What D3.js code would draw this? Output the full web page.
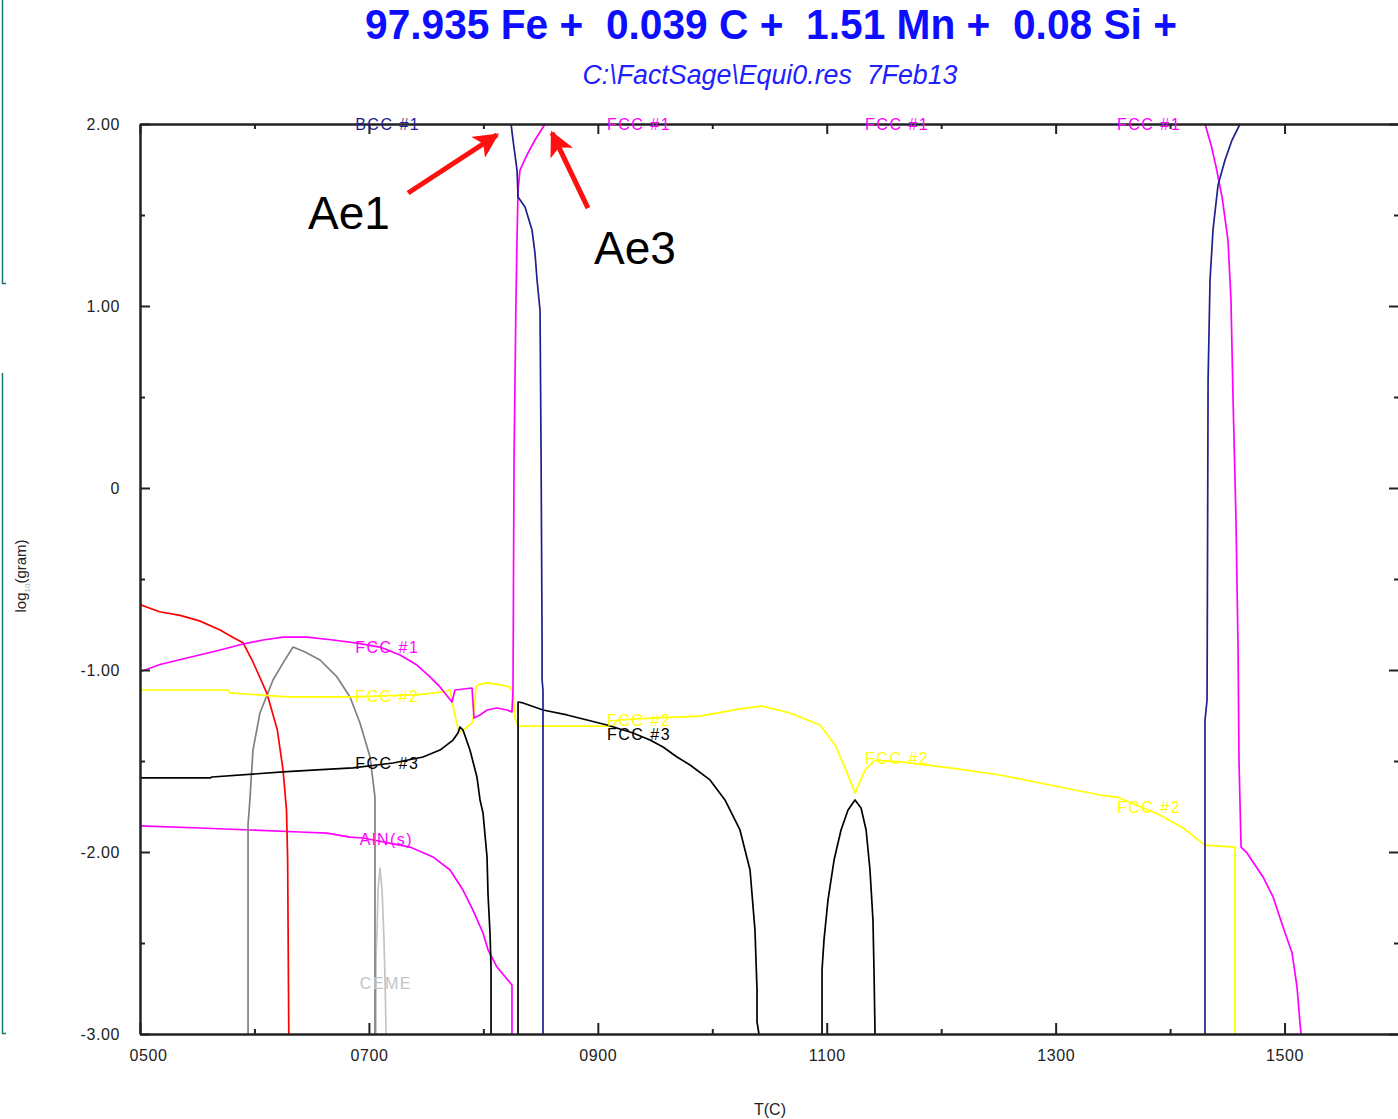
<!DOCTYPE html>
<html><head><meta charset="utf-8">
<script src="https://cdn.jsdelivr.net/npm/d3@7"></script>
<style>
html,body{margin:0;padding:0;background:#fff;}
svg{display:block;}
</style>
</head><body>
<svg id="chart" width="1398" height="1119"></svg>
<script>
// ---------- DATA (T in °C, value in log10(gram)) ----------
const titleText = "97.935 Fe +  0.039 C +  1.51 Mn +  0.08 Si +";
const subtitleText = "C:\\FactSage\\Equi0.res  7Feb13";
const xTickMajor = [500, 700, 900, 1100, 1300, 1500];
const xTickMinor = [600, 800, 1000, 1200, 1400, 1600];
const yTickMajor = [2, 1, 0, -1, -2, -3];
const yTickMinor = [1.5, 0.5, -0.5, -1.5, -2.5];

const redPhase = [[500,-0.64],[517,-0.68],[535,-0.70],[552,-0.73],[570,-0.78],[581,-0.82],[590,-0.85],[599,-0.96],[611,-1.13],[620,-1.33],[625,-1.55],[628,-1.77],[629,-2.04],[630,-3.0]];
const fcc1Low = [[500,-1.01],[517.5,-0.97],[543.7,-0.93],[569.9,-0.89],[590,-0.857],[607.5,-0.835],[624.9,-0.819],[645.9,-0.819],[668.6,-0.835],[689.6,-0.852],[709.7,-0.874],[727.2,-0.918],[742,-0.973],[753.4,-1.038],[762.1,-1.093],[772.6,-1.176],[775.2,-1.11],[790.1,-1.099],[791.8,-1.264],[797.1,-1.247],[803.2,-1.22],[811.9,-1.209],[820.7,-1.22],[825,-1.231],[825.9,-1.11],[826.8,0.154],[828.5,1.033],[829.4,1.363],[830.3,1.637],[832,1.747],[838.1,1.83],[845.1,1.912],[853.9,2.0]];
const fcc1High = [[1430.5,2.0],[1436,1.88],[1440,1.77],[1445.4,1.6],[1450.6,1.36],[1453.2,1.033],[1455,0.49],[1457.6,-0.18],[1459.4,-0.89],[1460.2,-1.495],[1462,-1.973],[1467.2,-2.005],[1481.2,-2.137],[1490,-2.247],[1498.7,-2.412],[1506.6,-2.555],[1510.9,-2.742],[1513.5,-2.94],[1514.4,-3.0]];
const bccLow = [[824.2,2.0],[825.9,1.912],[829.4,1.747],[830.3,1.599],[836.4,1.544],[842.5,1.418],[845.1,1.291],[846.9,1.143],[849.5,0.978],[850.4,0.209],[851.3,-0.835],[851.3,-1.055],[852.1,-1.11],[852.1,-3.0]];
const bccHigh = [[1461.1,2.0],[1454.1,1.912],[1448,1.802],[1441.9,1.665],[1437.5,1.418],[1434.9,1.143],[1433.2,0.593],[1432.3,-1.165],[1430.5,-1.275],[1430.5,-3.0]];
const fcc2 = [[500,-1.11],[576.9,-1.11],[578.6,-1.126],[628.4,-1.148],[686.1,-1.148],[742,-1.137],[764.7,-1.121],[770.9,-1.11],[773.5,-1.203],[777.8,-1.319],[779.6,-1.341],[785.7,-1.313],[790.1,-1.291],[791.8,-1.236],[793.6,-1.093],[795.3,-1.082],[803.2,-1.071],[814.5,-1.082],[823.3,-1.093],[825.9,-1.126],[827.7,-1.264],[830.3,-1.308],[913.3,-1.308],[916.8,-1.275],[945.6,-1.264],[989.3,-1.253],[1024.2,-1.214],[1043.5,-1.198],[1067.9,-1.236],[1094.1,-1.302],[1107.3,-1.412],[1116,-1.538],[1124.7,-1.676],[1133.5,-1.549],[1142.2,-1.495],[1164,-1.505],[1207.7,-1.538],[1251.4,-1.577],[1295.1,-1.632],[1338.8,-1.687],[1353.6,-1.698],[1391.2,-1.797],[1411.3,-1.868],[1430.5,-1.962],[1456.7,-1.973],[1456.7,-3.0]];
const fcc3Low = [[500,-1.593],[561.2,-1.593],[562.9,-1.588],[624.9,-1.56],[654.7,-1.549],[686.1,-1.538],[721.1,-1.511],[747.3,-1.478],[762.1,-1.44],[773.5,-1.385],[777.8,-1.346],[779.6,-1.313],[782.2,-1.33],[788.3,-1.44],[794.4,-1.588],[797.1,-1.714],[799.7,-1.786],[803.2,-2.027],[804.1,-2.236],[805.8,-2.445],[806.7,-2.632],[806.7,-3.0]];
const fcc3Mid = [[830.3,-3.0],[830.3,-1.176],[834.7,-1.181],[852.1,-1.22],[873.1,-1.247],[890.6,-1.275],[908,-1.302],[930.8,-1.346],[945.6,-1.385],[957,-1.423],[969.2,-1.478],[980.6,-1.522],[998,-1.604],[1011.1,-1.714],[1024.2,-1.879],[1033,-2.099],[1037.3,-2.429],[1039.1,-2.758],[1039.1,-2.934],[1040.8,-3.0]];
const fcc3Peak = [[1095.9,-3.0],[1095.9,-2.648],[1097.6,-2.484],[1101.1,-2.264],[1106.4,-2.044],[1112.5,-1.879],[1118.6,-1.769],[1124.7,-1.714],[1130,-1.758],[1134.4,-1.879],[1137.8,-2.099],[1140.4,-2.374],[1141.3,-2.648],[1142.2,-3.0]];
const greyDome = [[594.4,-3.0],[594.4,-1.85],[596,-1.714],[598.7,-1.44],[604.8,-1.236],[616.2,-1.055],[624.9,-0.962],[633.7,-0.874],[644.2,-0.901],[657.3,-0.945],[672.1,-1.038],[683.5,-1.148],[692.2,-1.291],[701,-1.478],[705.3,-1.698],[705.3,-3.0]];
const cemeSpike = [[706.2,-3.0],[706.2,-2.593],[707.1,-2.429],[708,-2.209],[709.7,-2.088],[711.5,-2.209],[713.2,-2.484],[714.1,-2.703],[715,-3.0]];
const alnPhase = [[500,-1.857],[552.4,-1.868],[596.1,-1.879],[639.8,-1.89],[663.4,-1.896],[683.5,-1.918],[694.8,-1.923],[735.9,-1.973],[742,-1.989],[756,-2.027],[770.9,-2.099],[782.2,-2.209],[790.9,-2.319],[799.7,-2.445],[804.1,-2.538],[811.9,-2.632],[825,-2.731],[825,-3.0]];

const labelText = ["BCC #1","FCC #1","FCC #1","FCC #1","FCC #1","FCC #2","FCC #3","AlN(s)","CEME","FCC #2","FCC #3","FCC #2","FCC #2"];
const labelT    = [688, 908, 1133.5, 1353.6, 688, 688, 688, 692, 692, 908, 908, 1133.5, 1353.6];
const labelV    = [2.0, 2.0, 2.0, 2.0, -0.874, -1.143, -1.516, -1.929, -2.72, -1.275, -1.357, -1.489, -1.758];
const labelKey  = ["bcc","fcc1","fcc1","fcc1","fcc1","fcc2","fcc3","aln","ceme","fcc2","fcc3","fcc2","fcc2"];

const arrowNames = ["Ae1","Ae3"];
const arrowTail = [[734.2,1.621],[891.4,1.538]];
const arrowTip  = [[811.9,1.94],[860.0,1.951]];
const arrowTextPos = [[646.8,1.423],[896.7,1.231]];

// ---------- STYLES ----------
const colors = {red:"#ff0000", fcc1:"#ff00ff", bcc:"#1f1f8f", fcc2:"#ffff00", fcc3:"#000000", grey:"#808080", ceme:"#c4c4c4", aln:"#ff00ff"};
const series = [
  {d:alnPhase, c:colors.aln},
  {d:cemeSpike, c:colors.ceme},
  {d:greyDome, c:colors.grey},
  {d:redPhase, c:colors.red},
  {d:fcc2, c:colors.fcc2},
  {d:fcc3Low, c:colors.fcc3},
  {d:fcc3Mid, c:colors.fcc3},
  {d:fcc3Peak, c:colors.fcc3},
  {d:fcc1Low, c:colors.fcc1},
  {d:fcc1High, c:colors.fcc1},
  {d:bccLow, c:colors.bcc},
  {d:bccHigh, c:colors.bcc}
];

const svg = d3.select("#chart");
const x = d3.scaleLinear().domain([500,1600]).range([140,1399]);
const y = d3.scaleLinear().domain([-3,2]).range([1034,124]);

// slide frame remnants (teal)
const teal = "#127a72";
svg.append("path").attr("d","M2.5,0 V283.5 H6").attr("fill","none").attr("stroke",teal).attr("stroke-width",1.5);
svg.append("path").attr("d","M2.5,373 V1033.5 H6").attr("fill","none").attr("stroke",teal).attr("stroke-width",1.5);

// titles
svg.append("text").attr("x",771).attr("y",39).attr("text-anchor","middle")
  .attr("font-family","'Liberation Sans Narrow','Arial Narrow','Liberation Sans',Arial,sans-serif")
  .attr("font-weight","bold").attr("font-size",42).attr("fill","#0d0dff")
  .attr("textLength",812).attr("lengthAdjust","spacingAndGlyphs")
  .style("white-space","pre").text(titleText);
svg.append("text").attr("x",770).attr("y",84).attr("text-anchor","middle")
  .attr("font-family","'Liberation Sans Narrow','Arial Narrow','Liberation Sans',Arial,sans-serif")
  .attr("font-style","italic").attr("font-size",27).attr("fill","#2020ff")
  .attr("textLength",375).attr("lengthAdjust","spacingAndGlyphs")
  .style("white-space","pre").text(subtitleText);

// clip
svg.append("clipPath").attr("id","plotclip").append("rect")
  .attr("x",140).attr("y",123).attr("width",1260).attr("height",912);

// curves
const line = d3.line().x(d=>x(d[0])).y(d=>y(d[1]));
const g = svg.append("g").attr("clip-path","url(#plotclip)");
series.forEach(s=>{
  g.append("path").attr("d",line(s.d)).attr("fill","none")
    .attr("stroke",s.c).attr("stroke-width",1.7).attr("stroke-linejoin","round");
});

// axes
const axisFont = "'Liberation Sans',Arial,sans-serif";
function styleAxis(sel){
  sel.select(".domain").attr("stroke","#222").attr("stroke-width",2);
  sel.selectAll(".tick line").attr("stroke","#222").attr("stroke-width",2);
  sel.selectAll(".tick text").attr("fill","#222").attr("font-family",axisFont).attr("font-size",16).attr("letter-spacing",0.6);
}
const fmtY = v => v===0 ? "0" : (v<0?"-":"")+Math.abs(v).toFixed(2);
const fmtX = v => d3.format("04d")(v);

const xb = svg.append("g").attr("transform","translate(0,1034)")
  .call(d3.axisBottom(x).tickValues(xTickMajor).tickSize(-11).tickSizeOuter(0).tickPadding(16).tickFormat(fmtX)).call(styleAxis);
xb.selectAll(".tick text").filter(d=>d===500).attr("dx",8);
svg.append("g").attr("transform","translate(0,1034)")
  .call(d3.axisBottom(x).tickValues(xTickMinor).tickSize(-5).tickSizeOuter(0).tickFormat("")).call(styleAxis);
svg.append("g").attr("transform","translate(0,124)")
  .call(d3.axisTop(x).tickValues(xTickMajor).tickSize(-10).tickSizeOuter(0).tickFormat("")).call(styleAxis);
svg.append("g").attr("transform","translate(0,124)")
  .call(d3.axisTop(x).tickValues(xTickMinor).tickSize(-5).tickSizeOuter(0).tickFormat("")).call(styleAxis);
svg.append("g").attr("transform","translate(140,0)")
  .call(d3.axisLeft(y).tickValues(yTickMajor).tickSize(-10).tickSizeOuter(0).tickPadding(20).tickFormat(fmtY)).call(styleAxis);
svg.append("g").attr("transform","translate(140,0)")
  .call(d3.axisLeft(y).tickValues(yTickMinor).tickSize(-5).tickSizeOuter(0).tickFormat("")).call(styleAxis);
svg.append("g").attr("transform","translate(1399,0)")
  .call(d3.axisRight(y).tickValues(yTickMajor).tickSize(-10).tickSizeOuter(0).tickFormat("")).call(styleAxis);
svg.append("g").attr("transform","translate(1399,0)")
  .call(d3.axisRight(y).tickValues(yTickMinor).tickSize(-5).tickSizeOuter(0).tickFormat("")).call(styleAxis);

// axis titles
svg.append("text").attr("x",770).attr("y",1115).attr("text-anchor","middle")
  .attr("font-family",axisFont).attr("font-size",16).attr("fill","#222").text("T(C)");
const yl = svg.append("text").attr("transform","translate(26,576) rotate(-90)").attr("text-anchor","middle")
  .attr("font-family",axisFont).attr("font-size",15).attr("fill","#222");
yl.append("tspan").text("log");
yl.append("tspan").attr("font-size",8).attr("fill","#aaa").attr("dy",4).text("10");
yl.append("tspan").attr("dy",-4).text("(gram)");

// phase labels
labelText.forEach((t,i)=>{
  svg.append("text").attr("x",x(labelT[i])).attr("y",y(labelV[i]))
    .attr("dominant-baseline","central")
    .attr("font-family",axisFont).attr("font-size",16).attr("letter-spacing",1.5)
    .attr("fill",colors[labelKey[i]]).text(t);
});

// arrows & annotations
const defs = svg.append("defs");
defs.append("marker").attr("id","ah").attr("viewBox","0 0 10 10").attr("refX",9).attr("refY",5)
  .attr("markerWidth",5).attr("markerHeight",5).attr("orient","auto").attr("markerUnits","strokeWidth")
  .append("path").attr("d","M0,0 L10,5 L0,10 L2.5,5 z").attr("fill","#ff1010");
arrowNames.forEach((n,i)=>{
  svg.append("line").attr("x1",x(arrowTail[i][0])).attr("y1",y(arrowTail[i][1]))
    .attr("x2",x(arrowTip[i][0])).attr("y2",y(arrowTip[i][1]))
    .attr("stroke","#ff1010").attr("stroke-width",5).attr("marker-end","url(#ah)");
  svg.append("text").attr("x",x(arrowTextPos[i][0])).attr("y",y(arrowTextPos[i][1]))
    .attr("font-family","'Liberation Sans',Arial,sans-serif").attr("font-size",46).attr("fill","#000").text(n);
});
</script>
</body></html>
